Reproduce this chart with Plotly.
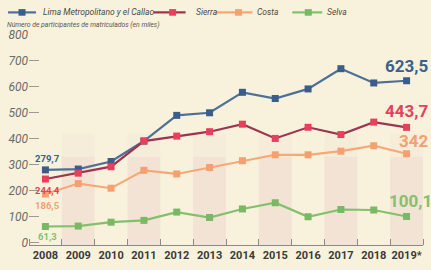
import plotly.graph_objects as go

years = [2008, 2009, 2010, 2011, 2012, 2013, 2014, 2015, 2016, 2017, 2018, 2019]
year_labels = ["2008", "2009", "2010", "2011", "2012", "2013", "2014", "2015", "2016", "2017", "2018", "2019*"]
lima = [279.7, 283, 312, 391, 490, 500, 579, 555, 592, 670, 615, 623.5]
sierra = [244.4, 267, 292, 391, 410, 427, 456, 401, 444, 416, 464, 443.7]
costa = [186.5, 227, 209, 278, 264, 289, 315, 338, 338, 352, 373, 342]
selva = [61.3, 63, 78, 85, 117, 96, 129, 153, 99, 127, 125, 100.1]
series_names = ["Lima Metropolitano y el Callao", "Sierra", "Costa", "Selva"]
y_ticks = [0, 100, 200, 300, 400, 500, 600, 700, 800]

W, H = 431, 270
ML, MR, MT, MB = 28, 8, 35, 12
PW, PH = W - ML - MR, H - MT - MB
FONT = "Roboto"

def px(x):
    return (x - ML) / PW

def py(y):
    return (H - MB - y) / PH

styles = [
    dict(line="#4d6f98", marker="#3b5d8c", label="#3d5f8c"),
    dict(line="#9c3550", marker="#e8405c", label="#e8405c"),
    dict(line="#f5a878", marker="#f5a070", label="#f5a070"),
    dict(line="#82c06c", marker="#7ab866", label="#86bf6e"),
]
data = [lima, sierra, costa, selva]

fig = go.Figure()

# alternating background bands (faint, stronger toward the bottom)
shapes = []
band_layers = [(330, 420, "#f5ecda"), (-10, 330, "#f2e3d4")]
for yr in years:
    if yr % 2 == 1:
        for b0, b1, col in band_layers:
            shapes.append(dict(type="rect", xref="x", yref="y", x0=yr - 0.5, x1=yr + 0.5,
                               y0=b0, y1=b1, fillcolor=col, line=dict(width=0), layer="below"))

for vals, name, st in zip(data, series_names, styles):
    fig.add_trace(go.Scatter(
        x=years, y=vals, name=name, mode="lines+markers",
        line=dict(color=st["line"], width=2.2),
        marker=dict(symbol="square", size=7, color=st["marker"]),
        showlegend=False, cliponaxis=False, hoverinfo="skip",
    ))

annotations = []
# start labels
start_shift = [11, -11, -11, -10]
for vals, st, ys in zip(data, styles, start_shift):
    annotations.append(dict(x=years[0], y=vals[0], xref="x", yref="y",
                            text=f"{vals[0]:.1f}".replace(".", ","), showarrow=False,
                            xshift=2, yshift=ys,
                            font=dict(family=FONT, size=9.5, color=st["label"], weight="bold")))
# end labels
end_fmt = ["623,5", "443,7", "342", "100,1"]
end_left_px = [384, 384, 398, 388]
end_yshift = [15, 16, 13, 15]
for vals, st, txt, xl, ys in zip(data, styles, end_fmt, end_left_px, end_yshift):
    annotations.append(dict(x=px(xl), y=vals[-1], xref="paper", yref="y",
                            text=txt, showarrow=False, xanchor="left",
                            yshift=ys, borderpad=0,
                            font=dict(family=FONT, size=17, color=st["label"], weight="bold")))

# custom legend
leg_items = [(7, 35, 21, 40), (153, 185, 172, 193), (215, 252, 238, 255), (292, 322, 308, 325)]
ly = 11
for (x0, x1, xm, xt), name, st in zip(leg_items, series_names, styles):
    shapes.append(dict(type="line", xref="paper", yref="paper", x0=px(x0), x1=px(x1),
                       y0=py(ly), y1=py(ly), line=dict(color=st["line"], width=2.2)))
    shapes.append(dict(type="rect", xref="paper", yref="paper", x0=px(xm - 3.5), x1=px(xm + 3.5),
                       y0=py(ly - 3.5), y1=py(ly + 3.5), fillcolor=st["marker"], line=dict(width=0)))
    annotations.append(dict(x=px(xt), y=py(ly), xref="paper", yref="paper", text=name,
                            showarrow=False, xanchor="left", yanchor="middle",
                            font=dict(family=FONT, size=8.5, color="#4a4a4a", style="italic")))

annotations.append(dict(x=px(4), y=py(24), xref="paper", yref="paper",
                        text="Número de participantes de matriculados (en miles)",
                        showarrow=False, xanchor="left", yanchor="middle",
                        font=dict(family=FONT, size=6.8, color="#555555", style="italic")))

fig.update_layout(
    width=W, height=H,
    margin=dict(l=ML, r=MR, t=MT, b=MB),
    paper_bgcolor="#f8f2dc", plot_bgcolor="#f8f2dc",
    shapes=shapes, annotations=annotations,
    showlegend=False, hovermode=False,
    xaxis=dict(range=[2007.5, 2019.5], tickvals=years, ticktext=year_labels,
               showgrid=False, zeroline=False, showline=True, linecolor="#8a8a8a", linewidth=1,
               ticks="", tickfont=dict(family=FONT, size=11, color="#3a3a3a", weight="bold"),
               minor=dict(tick0=2007.5, dtick=1, ticks="inside", ticklen=6, tickcolor="#8a8a8a")),
    yaxis=dict(range=[-10, 800], tickvals=y_ticks, showgrid=False, zeroline=False,
               ticks="inside", ticklen=10, tickcolor="#9a9a9a", tickwidth=1,
               tickfont=dict(family=FONT, size=12, color="#6a6a6a", style="italic")),
)

fig.write_html("out.html", config={"displayModeBar": False, "staticPlot": True},
               post_script="document.body.style.margin='0';document.body.style.padding='0';"
                           "document.body.style.overflow='hidden';document.body.style.background='#f8f2dc';")
